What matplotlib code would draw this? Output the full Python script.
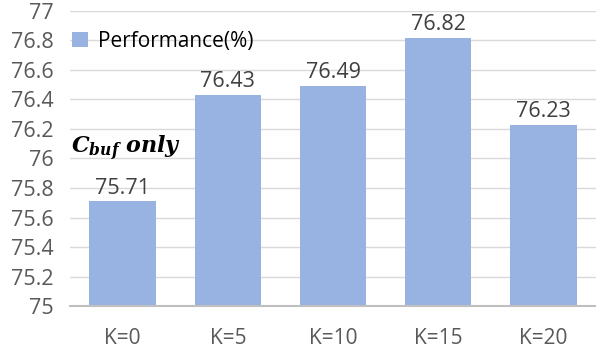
import matplotlib
matplotlib.use("Agg")
import matplotlib.pyplot as plt

categories = ["K=0", "K=5", "K=10", "K=15", "K=20"]
performance = [75.71, 76.43, 76.49, 76.82, 76.23]
yticks = [75, 75.2, 75.4, 75.6, 75.8, 76, 76.2, 76.4, 76.6, 76.8, 77]

plt.rcParams['font.family'] = ['Open Sans', 'DejaVu Sans']
plt.rcParams['mathtext.fontset'] = 'dejavuserif'

fig = plt.figure(figsize=(5.96, 3.53), dpi=100)
ax = fig.add_axes([0.1175, 0.133, 0.8825, 0.836])

bars = ax.bar(range(len(categories)), performance, width=0.63,
              color="#98B2E2", label="Performance(%)", zorder=3)
ax.bar_label(bars, labels=["%.2f" % v for v in performance], padding=2,
             fontsize=15.5, color="#404040")

ax.set_xlim(-0.5, len(categories) - 0.5)
ax.set_ylim(75, 77)
ax.set_yticks(yticks)
ax.set_yticklabels(["%g" % t for t in yticks])
ax.set_xticks(range(len(categories)))
ax.set_xticklabels(categories)
ax.tick_params(axis="y", length=0, pad=12, labelsize=15.5, labelcolor="#595959")
ax.tick_params(axis="x", length=0, pad=16, labelsize=15, labelcolor="#595959")

ax.grid(axis="y", color="#D9D9D9", linewidth=1, zorder=0)
for s in ["top", "right", "left"]:
    ax.spines[s].set_visible(False)
ax.spines["bottom"].set_color("#BFBFBF")
ax.spines["bottom"].set_linewidth(1.5)
ax.spines["bottom"].set_zorder(4)

ax.legend(loc="upper left", bbox_to_anchor=(-0.02, 0.975), frameon=False,
          fontsize=15, handlelength=0.75, handleheight=0.75, handletextpad=0.5,
          borderaxespad=0.2)

ax.text(-0.49, 76.07, r"$\mathbfit{C}_{\mathbfit{buf}}\ \mathbfit{only}$",
        fontsize=16, color="black", ha="left", va="center")

fig.savefig("out.png", dpi=100)
